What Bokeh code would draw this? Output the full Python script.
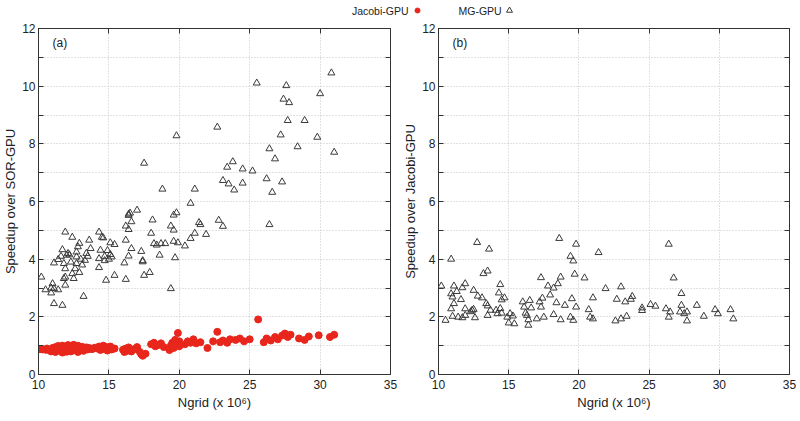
from bokeh.plotting import figure
from bokeh.layouts import column, row
from bokeh.models import Range1d, LinearAxis, FixedTicker, Label
from bokeh.embed import file_html
from bokeh.resources import INLINE
from bokeh.core.properties import value

FONT = "Liberation Sans"
RED = "#e8261c"
TRI = "#3a3a3a"

# ---------------- data ----------------
x_ticks = [10, 15, 20, 25, 30, 35]
y_ticks = list(range(0, 13))
y_tick_labels = {i: (str(i) if i % 2 == 0 else "") for i in y_ticks}

series_names = ["Jacobi-GPU", "MG-GPU"]
panel_tags = ["(a)", "(b)"]
y_labels = ["Speedup over SOR-GPU", "Speedup over Jacobi-GPU"]
x_label = "Ngrid (x 10\u2076)"

# (a) Jacobi-GPU speedup over SOR-GPU
jac_a_x = [10.1, 10.3, 10.5, 10.6, 10.7, 10.9, 11.0, 11.1, 11.2, 11.2, 11.3, 11.4, 11.5, 11.5, 11.6,
           11.7, 11.7, 11.8, 11.9, 11.9, 12.0, 12.0, 12.1, 12.2, 12.2, 12.3, 12.4, 12.5, 12.5, 12.6,
           12.7, 12.8, 12.8, 12.9, 13.0, 13.1, 13.2, 13.3, 13.4, 13.5, 13.6, 13.8, 14.0, 14.2, 14.3,
           14.4, 14.5, 14.6, 14.7, 14.8, 14.9, 15.0, 15.1, 15.2, 15.4, 16.0, 16.1, 16.2, 16.3, 16.4,
           16.5, 16.6, 16.8, 17.0, 17.2, 17.3, 17.4, 17.6, 18.0, 18.2, 18.3, 18.5, 18.7, 18.9, 19.3,
           19.4, 19.5, 19.6, 19.7, 19.8, 19.9, 20.0, 20.0, 20.4, 20.6, 20.8, 21.0, 21.2, 21.5, 22.0,
           22.4, 22.7, 22.9, 23.1, 23.4, 23.6, 24.0, 24.3, 24.6, 25.0, 25.6, 26.0, 26.2, 26.5, 26.8,
           27.0, 27.3, 27.5, 27.7, 27.9, 28.5, 28.9, 29.2, 29.9, 30.7, 31.0]
jac_a_y = [0.88, 0.87, 0.86, 0.90, 0.85, 0.80, 0.92, 0.84, 0.95, 0.78, 0.88, 0.99, 0.82, 0.93, 0.87,
           0.76, 1.00, 0.90, 0.84, 0.97, 0.79, 0.91, 1.02, 0.86, 0.95, 0.80, 0.92, 1.03, 0.85, 0.97,
           0.89, 0.78, 1.00, 0.93, 0.86, 0.96, 0.82, 0.90, 0.94, 0.87, 0.92, 0.88, 0.93, 0.90, 0.97,
           0.85, 0.93, 1.00, 0.88, 0.95, 0.83, 0.91, 0.97, 0.87, 0.90, 0.86, 0.78, 0.90, 0.82, 0.94,
           0.85, 0.80, 0.88, 0.95, 0.78, 0.70, 0.65, 0.72, 1.05, 1.10, 0.98, 1.02, 1.08, 0.95, 0.85,
           1.00, 1.10, 0.92, 1.20, 1.05, 1.44, 0.98, 1.15, 1.05, 1.15, 1.10, 1.22, 1.08, 1.12, 0.92,
           1.15, 1.48, 1.12, 1.18, 1.10, 1.22, 1.20, 1.25, 1.15, 1.22, 1.91, 1.12, 1.25, 1.18, 1.30,
           1.22, 1.35, 1.42, 1.30, 1.38, 1.25, 1.20, 1.32, 1.36, 1.30, 1.38]

# (a) MG-GPU speedup over SOR-GPU
mg_a_x = [30.8, 25.5, 27.6, 30.0, 27.4, 27.8, 27.7, 28.9, 22.7, 27.2, 29.8, 26.4, 28.4, 31.0, 26.8,
          23.8, 23.4, 24.5, 25.2, 26.2, 23.1, 23.5, 24.5, 27.3, 23.9, 26.6, 22.8, 23.1, 21.9, 21.5,
          26.4, 19.8, 17.5, 18.8, 21.1, 20.8, 16.4, 16.5, 16.4, 17.0, 18.1, 16.6, 16.2, 19.6, 19.8,
          21.4, 19.4, 19.6, 16.4, 18.0, 21.1, 20.8, 16.2, 18.2, 18.4, 18.7, 19.0, 19.6, 19.9, 20.4,
          16.6, 17.3, 18.6, 16.4, 19.7, 16.1, 17.4, 17.4, 17.9, 17.5, 16.2, 15.4, 14.8, 19.4, 15.1,
          15.4, 15.1, 15.2, 14.3, 14.5, 14.6, 14.4, 14.7, 14.3, 14.7, 14.3, 13.6, 13.7, 13.5, 13.3,
          12.8, 12.7, 12.7, 12.4, 11.9, 11.7, 12.0, 11.8, 11.9, 11.4, 11.1, 12.7, 12.6, 12.4, 12.5,
          12.9, 11.9, 11.8, 11.9, 10.2, 10.5, 11.0, 10.9, 11.1, 11.4, 10.9, 11.1, 11.7, 13.2, 12.1,
          12.2, 13.0, 13.1, 12.9, 14.9, 15.0, 11.6, 12.3, 13.4]
mg_a_y = [10.46, 10.11, 10.02, 9.74, 9.55, 9.43, 8.81, 8.81, 8.58, 8.31, 8.23, 7.83, 7.90, 7.71, 7.48,
          7.38, 7.19, 7.13, 7.06, 6.79, 6.73, 6.61, 6.64, 6.68, 6.40, 6.32, 5.35, 5.14, 4.86, 5.20,
          5.20, 8.28, 7.33, 6.43, 6.43, 5.94, 5.56, 5.60, 5.52, 5.70, 5.36, 5.30, 5.15, 5.53, 5.61,
          5.27, 5.15, 5.01, 5.03, 4.90, 4.90, 4.72, 4.66, 4.54, 4.49, 4.54, 4.54, 4.62, 4.57, 4.46,
          4.37, 4.27, 4.14, 4.11, 4.05, 3.87, 3.91, 3.95, 3.54, 3.44, 3.30, 3.44, 3.27, 2.98, 4.57,
          4.51, 4.16, 4.08, 4.94, 4.76, 4.74, 4.31, 4.10, 4.02, 3.95, 3.71, 4.66, 4.37, 4.10, 3.96,
          4.43, 4.25, 4.08, 4.76, 4.94, 4.33, 4.14, 3.85, 3.67, 3.99, 3.87, 3.85, 3.67, 3.50, 3.33,
          3.54, 3.38, 3.33, 3.10, 3.38, 2.94, 3.15, 3.00, 2.98, 2.94, 2.83, 2.46, 2.40, 2.71, 4.20,
          4.15, 4.00, 3.80, 4.55, 4.30, 4.00, 4.10, 3.90, 4.20]

# (b) MG-GPU speedup over Jacobi-GPU
mg_b_x = [12.75, 13.6, 10.9, 13.2, 13.5, 10.2, 11.1, 11.7, 11.9, 11.3, 10.9, 11.0, 11.1, 11.6, 10.9,
          12.5, 12.8, 13.1, 14.4, 14.3, 14.7, 14.5, 13.4, 13.5, 13.7, 14.1, 14.4, 14.5, 14.2, 11.9,
          11.9, 12.4, 12.3, 12.5, 12.6, 11.4, 11.7, 11.0, 10.5, 13.5, 15.1, 15.3, 15.0, 15.4, 14.9,
          16.0, 16.5, 16.1, 16.6, 16.2, 16.3, 16.4, 16.4, 17.0, 17.5, 17.2, 17.3, 17.4, 17.95, 17.8,
          18.2, 18.5, 17.3, 18.7, 18.4, 19.0, 19.5, 19.8, 18.2, 18.7, 19.4, 19.6, 18.6, 19.8, 19.4,
          19.6, 19.7, 20.4, 21.4, 21.9, 21.0, 20.7, 20.8, 21.0, 22.7, 23.0, 23.3, 22.6, 23.0, 23.4,
          23.7, 23.8, 26.4, 26.75, 27.3, 24.5, 24.5, 25.1, 25.45, 26.2, 26.5, 26.4, 27.2, 27.3, 27.5,
          27.7, 27.7, 28.4, 28.9, 29.7, 29.9, 30.8, 31.0]
mg_b_y = [4.58, 4.35, 4.00, 3.50, 3.59, 3.07, 3.07, 3.01, 3.15, 2.88, 2.80, 2.69, 2.46, 2.60, 2.28,
          2.92, 2.72, 2.66, 3.12, 2.83, 2.66, 2.59, 2.46, 2.38, 2.23, 2.23, 2.29, 2.13, 2.11, 2.28,
          2.05, 2.23, 2.18, 2.26, 1.97, 1.99, 1.97, 2.02, 1.88, 2.05, 2.11, 2.03, 1.79, 1.76, 1.99,
          2.52, 2.57, 2.34, 2.31, 2.13, 2.05, 1.90, 1.71, 1.93, 1.99, 2.52, 2.34, 2.65, 2.76, 3.07,
          3.00, 3.15, 3.36, 3.38, 2.49, 2.40, 2.63, 2.34, 2.08, 1.90, 1.99, 1.88, 4.72, 4.52, 4.10,
          3.94, 3.48, 3.35, 4.23, 2.98, 2.66, 2.25, 1.99, 1.93, 2.61, 3.04, 2.52, 1.86, 1.93, 2.02,
          2.61, 2.71, 4.52, 3.35, 2.81, 2.31, 2.22, 2.43, 2.37, 2.28, 2.17, 1.99, 2.17, 2.40, 2.11,
          2.17, 1.86, 2.40, 2.02, 2.25, 2.11, 2.25, 1.93]


def style_axis(ax):
    ax.axis_line_color = "#333333"
    ax.major_tick_line_color = "#333333"
    ax.major_tick_in = 5
    ax.major_tick_out = 0
    ax.minor_tick_line_color = None
    ax.major_label_text_font = FONT
    ax.major_label_text_font_size = "12px"
    ax.major_label_text_color = "#222222"
    ax.axis_label_text_font = FONT
    ax.axis_label_text_font_style = "normal"
    ax.axis_label_text_color = "#222222"


def make_panel(tag, ylabel, frame_w, border_right):
    p = figure(frame_width=frame_w, frame_height=346,
               x_range=Range1d(10, 35), y_range=Range1d(0, 12),
               output_backend="svg", toolbar_location=None,
               min_border_left=38, min_border_right=border_right,
               min_border_top=8, min_border_bottom=46)
    p.xaxis.ticker = FixedTicker(ticks=x_ticks)
    p.yaxis.ticker = FixedTicker(ticks=y_ticks)
    p.yaxis.major_label_overrides = y_tick_labels
    for ax in p.xaxis + p.yaxis:
        style_axis(ax)
    p.xaxis.axis_label = x_label
    p.xaxis.axis_label_text_font_size = "13px"
    p.xaxis.major_label_standoff = 5
    p.xaxis.axis_label_standoff = 3
    p.yaxis.axis_label = ylabel
    p.yaxis.axis_label_text_font_size = "13px"
    p.yaxis.major_label_standoff = 3
    p.yaxis.axis_label_standoff = 1

    # mirrored inward ticks on top and right (no labels)
    top = LinearAxis(ticker=FixedTicker(ticks=x_ticks))
    right = LinearAxis(ticker=FixedTicker(ticks=y_ticks))
    for ax in (top, right):
        style_axis(ax)
        ax.major_label_text_font_size = "1px"
        ax.major_label_text_color = None
        ax.major_label_text_alpha = 0
        ax.major_label_standoff = 0
    p.add_layout(top, "above")
    p.add_layout(right, "right")

    p.xgrid.ticker = FixedTicker(ticks=x_ticks)
    p.ygrid.ticker = FixedTicker(ticks=y_ticks)
    p.grid.grid_line_color = "#c4c4c4"
    p.grid.grid_line_dash = "1 2"
    p.grid.grid_line_width = 1
    p.outline_line_color = "#333333"
    p.outline_line_width = 1
    p.background_fill_color = "white"
    p.border_fill_color = "white"

    p.add_layout(Label(x=11.0, y=11.5, text=tag, text_font=FONT,
                       text_font_size="12px", text_color="#222222",
                       text_baseline="middle", text_align="left"))
    return p


p1 = make_panel(panel_tags[0], y_labels[0], 352, 10)
p1.scatter(mg_a_x, mg_a_y, marker="triangle", size=7, fill_color=None,
           line_color=TRI, line_width=1)
p1.scatter(jac_a_x, jac_a_y, marker="circle", size=7, fill_color=RED,
           line_color=RED)

p2 = make_panel(panel_tags[1], y_labels[1], 351, 10)
p2.scatter(mg_b_x, mg_b_y, marker="triangle", size=7, fill_color=None,
           line_color=TRI, line_width=1)

# legend strip across the top
lg = figure(frame_width=799, frame_height=20, x_range=Range1d(0, 799), y_range=Range1d(20, 0),
            output_backend="svg", toolbar_location=None, min_border=0,
            x_axis_location=None, y_axis_location=None)
lg.grid.visible = False
lg.outline_line_color = None
lg.text(x=[408], y=[10], text=[series_names[0]], text_align="right", text_baseline="middle",
        text_font=value(FONT), text_font_size="10.5px", text_color="#222222")
lg.scatter(x=[417], y=[10], marker="circle", size=5, fill_color=RED, line_color=RED)
lg.text(x=[458], y=[10], text=[series_names[1]], text_align="left", text_baseline="middle",
        text_font=value(FONT), text_font_size="10.5px", text_color="#222222")
lg.scatter(x=[509], y=[10], marker="triangle", size=6, fill_color=None, line_color=TRI,
           line_width=1)

layout = column(lg, row(p1, p2))

with open("out.html", "w") as f:
    f.write(file_html(layout, INLINE))
